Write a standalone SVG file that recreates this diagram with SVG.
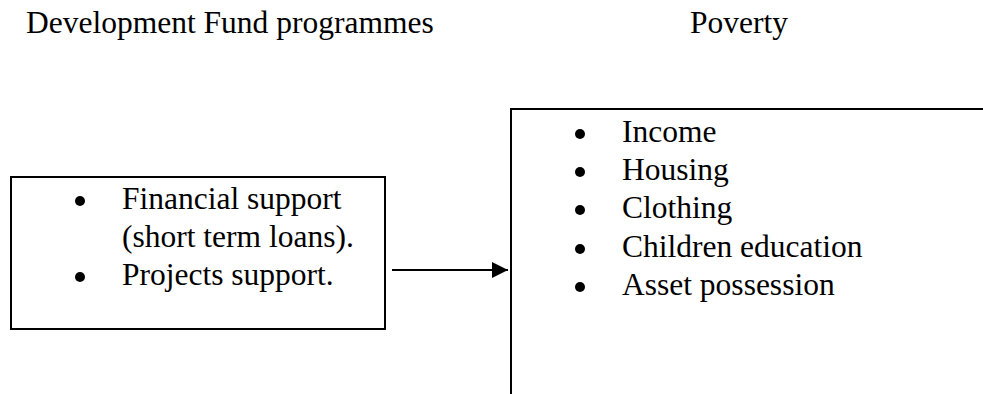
<svg xmlns="http://www.w3.org/2000/svg" width="983" height="394" viewBox="0 0 983 394">
<style>
text{font-family:"Liberation Serif","Times New Roman",serif;font-size:31.5px;fill:#000}
.box{fill:none;stroke:#000;stroke-width:2}
.conn{stroke:#000;stroke-width:2;fill:none}
.dot{fill:#000}
</style>
<defs>
<marker id="ah" viewBox="0 0 16 16" refX="16" refY="8" markerWidth="16" markerHeight="16" markerUnits="userSpaceOnUse" orient="auto"><path d="M0,0 L16,8 L0,16 z" fill="#000"/></marker>
</defs>
<rect width="983" height="394" fill="#fff"/>
<g id="title-left"><text x="26" y="33">Development Fund programmes</text></g>
<g id="title-right"><text x="690" y="33">Poverty</text></g>
<g id="dev-fund">
<rect class="box" x="11" y="177" width="374" height="152"/>
<circle class="dot" cx="80" cy="201" r="5"/><text x="122" y="209">Financial support</text>
<text x="122" y="247">(short term loans).</text>
<circle class="dot" cx="80" cy="277" r="5"/><text x="122" y="285">Projects support.</text>
</g>
<g id="poverty">
<path class="box" d="M511,395 V109 H984"/>
<circle class="dot" cx="580" cy="134" r="5"/><text x="622" y="142">Income</text>
<circle class="dot" cx="580" cy="172" r="5"/><text x="622" y="180">Housing</text>
<circle class="dot" cx="580" cy="210" r="5"/><text x="622" y="218">Clothing</text>
<circle class="dot" cx="580" cy="249" r="5"/><text x="622" y="257">Children education</text>
<circle class="dot" cx="580" cy="287" r="5"/><text x="622" y="295">Asset possession</text>
</g>
<g id="connectors">
<line class="conn" x1="392" y1="270" x2="508" y2="270" marker-end="url(#ah)"/>
</g>
</svg>
